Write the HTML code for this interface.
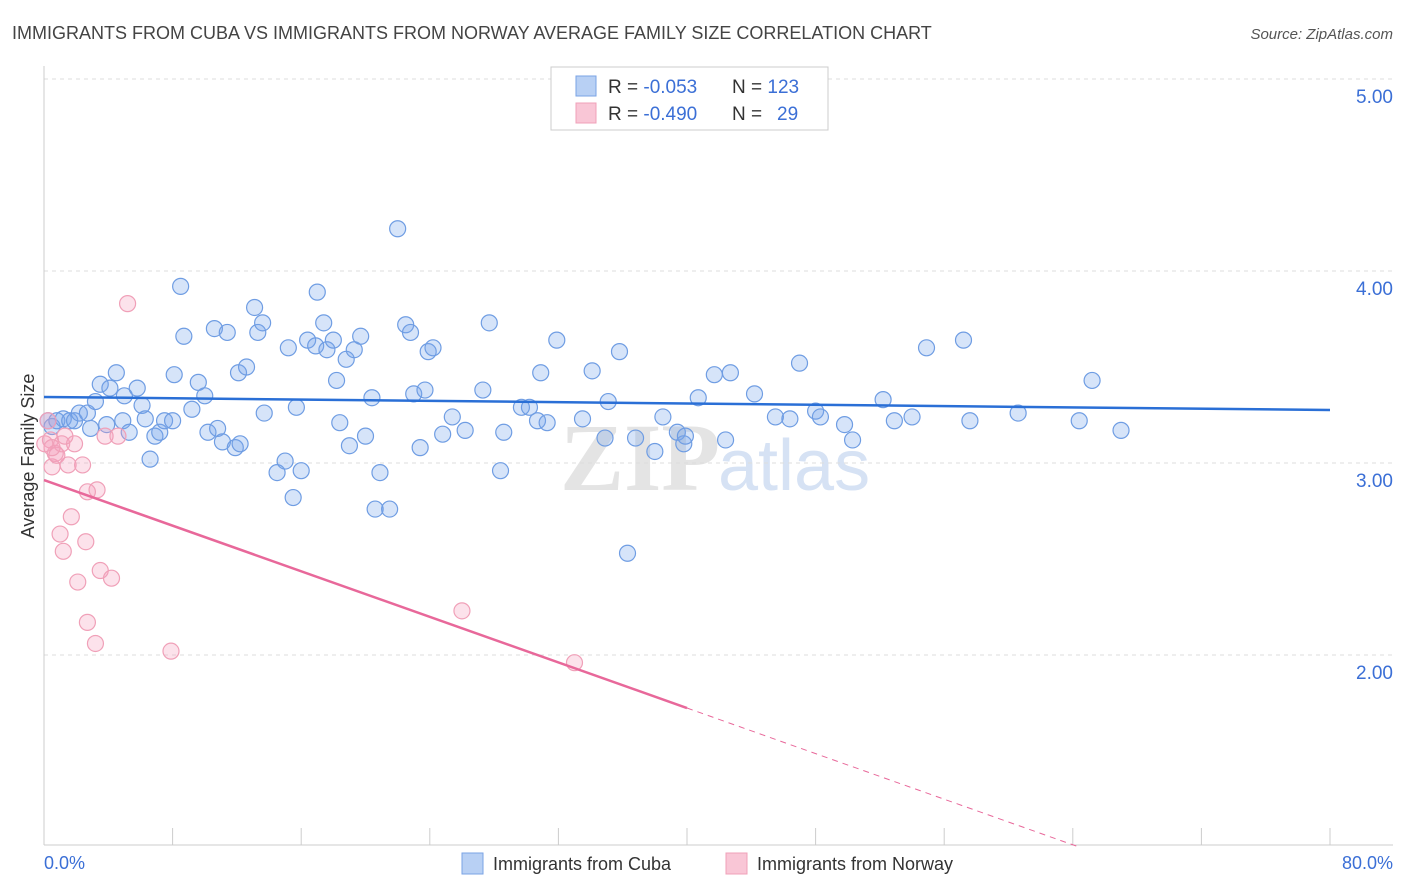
<!DOCTYPE html>
<html><head><meta charset="utf-8">
<style>
body{margin:0;background:#fff;font-family:"Liberation Sans",sans-serif;}
svg{display:block}
</style></head>
<body>
<svg id="chart" width="1406" height="892" viewBox="0 0 1406 892">
<text x="12" y="39" font-size="18" fill="#444">IMMIGRANTS FROM CUBA VS IMMIGRANTS FROM NORWAY AVERAGE FAMILY SIZE CORRELATION CHART</text>
<text x="1393" y="39" font-size="15" fill="#555" text-anchor="end" font-style="italic">Source: ZipAtlas.com</text>
<text x="720" y="490" font-size="96" fill="#e4e4e4" text-anchor="end" font-family="Liberation Serif" font-weight="bold">ZIP</text>
<text x="718" y="490" font-size="72" fill="#d6e2f4">atlas</text>
<g id="grid"></g>
<g id="axes"></g>
<g id="marks"></g>
<text transform="translate(34,456) rotate(-90)" font-size="18" fill="#333" text-anchor="middle">Average Family Size</text>
<text x="44" y="869" font-size="18" fill="#3b6fd6">0.0%</text>
<text x="1393" y="869" font-size="18" fill="#3b6fd6" text-anchor="end">80.0%</text>
<g>
<rect x="551" y="67" width="277" height="63" fill="#fff" stroke="#ccc"/>
<rect x="576" y="76" width="20" height="20" fill="#b8d0f4" stroke="#7aa3e5"/>
<rect x="576" y="103" width="20" height="20" fill="#f9c6d6" stroke="#f0a0b8"/>
<text x="608" y="93" font-size="19" fill="#333">R = <tspan fill="#3b6fd6">-0.053</tspan><tspan x="732">N = </tspan><tspan fill="#3b6fd6">123</tspan></text>
<text x="608" y="120" font-size="19" fill="#333">R = <tspan fill="#3b6fd6">-0.490</tspan><tspan x="732">N = </tspan><tspan fill="#3b6fd6" x="777">29</tspan></text>
</g>
<g>
<rect x="462" y="853" width="21" height="21" fill="#b8d0f4" stroke="#7aa3e5"/>
<text x="493" y="870" font-size="18" fill="#333">Immigrants from Cuba</text>
<rect x="726" y="853" width="21" height="21" fill="#f9c6d6" stroke="#f0a0b8"/>
<text x="757" y="870" font-size="18" fill="#333">Immigrants from Norway</text>
</g>
</svg>
<script>
const yTicks=[2,3,4,5];
const yTickLabels=["2.00","3.00","4.00","5.00"];
const cubaX=[0.25,0.5,0.8,1.2,1.6,1.9,2.2,2.7,2.9,3.2,3.5,3.9,4.1,4.5,4.9,5.0,5.3,5.8,6.1,6.3,6.6,6.9,7.2,7.5,8.0,8.1,8.5,8.7,9.2,9.6,10.0,10.2,10.6,10.8,11.1,11.4,11.9,12.1,12.2,12.6,13.1,13.3,13.6,13.7,14.5,15.0,15.2,15.7,15.5,16.0,16.4,16.9,17.0,17.4,17.6,18.0,18.2,18.4,18.8,19.0,19.3,19.7,20.0,20.4,20.6,20.9,21.5,22.0,22.5,22.8,23.0,23.4,23.7,23.9,24.2,24.8,25.4,26.2,27.3,27.7,28.4,28.6,29.7,30.2,30.7,30.9,31.3,31.9,33.5,34.1,34.9,35.1,35.8,36.3,36.8,38.0,38.5,39.4,39.8,39.9,40.7,41.7,42.4,42.7,44.2,45.5,46.4,47.0,48.0,48.3,49.8,50.3,52.2,52.9,54.0,54.9,57.2,57.6,60.6,64.4,65.2,67.0];
const cubaY=[3.22,3.19,3.22,3.23,3.22,3.22,3.26,3.26,3.18,3.32,3.41,3.20,3.39,3.47,3.22,3.35,3.16,3.39,3.30,3.23,3.02,3.14,3.16,3.22,3.22,3.46,3.92,3.66,3.28,3.42,3.35,3.16,3.70,3.18,3.11,3.68,3.08,3.47,3.10,3.50,3.81,3.68,3.73,3.26,2.95,3.01,3.60,3.29,2.82,2.96,3.64,3.61,3.89,3.73,3.59,3.64,3.43,3.21,3.54,3.09,3.59,3.66,3.14,3.34,2.76,2.95,2.76,4.22,3.72,3.68,3.36,3.08,3.38,3.58,3.60,3.15,3.24,3.17,3.38,3.73,2.96,3.16,3.29,3.29,3.22,3.47,3.21,3.64,3.23,3.48,3.13,3.32,3.58,2.53,3.13,3.06,3.24,3.16,3.10,3.14,3.34,3.46,3.12,3.47,3.36,3.24,3.23,3.52,3.27,3.24,3.20,3.12,3.33,3.22,3.24,3.60,3.64,3.22,3.26,3.22,3.43,3.17];
const norwayX=[0.25,0.4,0.5,0.7,0.8,1.0,1.1,1.2,1.5,1.7,1.9,2.1,2.4,2.6,2.7,2.7,3.2,3.3,3.5,3.8,4.2,4.6,5.2,7.9,26.0,33.0,0.5,1.3,0.05];
const norwayY=[3.22,3.12,2.98,3.05,3.04,2.63,3.10,2.54,2.99,2.72,3.10,2.38,2.99,2.59,2.85,2.17,2.06,2.86,2.44,3.14,2.40,3.14,3.83,2.02,2.23,1.96,3.08,3.14,3.10];
const cubaTrend=[3.344,3.276];
const norwayTrend=[2.911,-0.02968];

const NS="http://www.w3.org/2000/svg";
const X0=44,X1=1330,Y5=79,PXU=192;
const sx=v=>X0+(X1-X0)*v/80;
const sy=v=>Y5+(5-v)*PXU;
function mk(tag,attrs,parent){const e=document.createElementNS(NS,tag);for(const k in attrs)e.setAttribute(k,attrs[k]);parent.appendChild(e);return e;}
const grid=document.getElementById('grid'),axes=document.getElementById('axes'),marks=document.getElementById('marks');
yTicks.forEach((t,i)=>{
  const l=mk('line',{x1:44,x2:1393,y1:sy(t),y2:sy(t),stroke:'#ddd','stroke-dasharray':'4,4'},grid);
  
  
  const tx=mk('text',{x:1393,y:sy(t)+24,'font-size':19,fill:'#3b6fd6','text-anchor':'end'},axes);
  tx.textContent=yTickLabels[i];
  
  
});
const ax=mk('line',{x1:44,x2:44,y1:66,y2:845,stroke:'#ccc'},axes);


const bx=mk('line',{x1:44,x2:1393,y1:845,y2:845,stroke:'#ccc'},axes);


for(let i=0;i<=10;i++){
  const t=mk('line',{x1:sx(i*8),x2:sx(i*8),y1:828,y2:845,stroke:'#ccc'},axes);
  
  
}
cubaX.forEach((x,i)=>{
  const c=mk('circle',{cx:sx(x),cy:sy(cubaY[i]),r:8,fill:'rgba(120,165,235,0.3)',stroke:'#6f9de3','stroke-width':1.2},marks);
  
  
});
norwayX.forEach((x,i)=>{
  const c=mk('circle',{cx:sx(x),cy:sy(norwayY[i]),r:8,fill:'rgba(245,160,190,0.3)',stroke:'#f0a0b8','stroke-width':1.2},marks);
  
  
});
const bl=mk('line',{x1:sx(0),y1:sy(cubaTrend[0]),x2:sx(80),y2:sy(cubaTrend[1]),stroke:'#2a6fd6','stroke-width':2.5},marks);


const pf=x=>norwayTrend[0]+norwayTrend[1]*x;
const pl=mk('line',{x1:sx(0),y1:sy(pf(0)),x2:sx(40),y2:sy(pf(40)),stroke:'#e8689a','stroke-width':2.5},marks);


const xEnd=(norwayTrend[0]-1)/(-norwayTrend[1]);
const pd=mk('line',{x1:sx(40),y1:sy(pf(40)),x2:sx(xEnd),y2:sy(1),stroke:'#e8689a','stroke-width':1,'stroke-dasharray':'6,5'},marks);


</script>
</body></html>
